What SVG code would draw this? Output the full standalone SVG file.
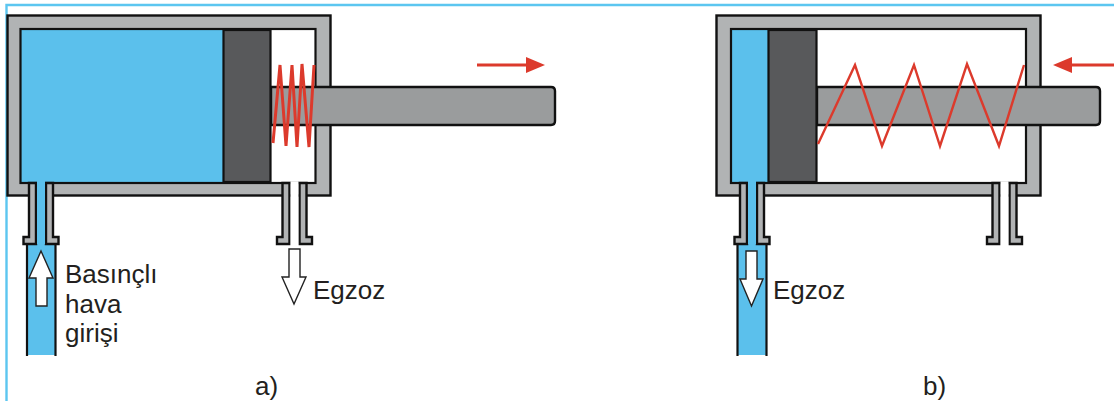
<svg xmlns="http://www.w3.org/2000/svg" width="1114" height="401" viewBox="0 0 1114 401">
<style>
.wall{fill:#b1b3b4;stroke:#111;stroke-width:2.4}
.blue{fill:#5bc0ec}
.white{fill:#fff}
.inner{stroke:#111;stroke-width:2.2;fill:none}
.piston{fill:#58595b;stroke:#111;stroke-width:2.2}
.rod{fill:#9a9c9d;stroke:#111;stroke-width:2.4}
.spring{fill:none;stroke:#dc3a2c;stroke-width:2.4;stroke-linejoin:miter}
.spring-tight{stroke-width:3}
.mv{stroke:#dc3a2c;stroke-width:2.8;fill:none}
.mh{fill:#dc3a2c}
.flow{fill:#fff;stroke:#222;stroke-width:1.4;stroke-linejoin:miter}
.pipe{stroke:#111;stroke-width:2.2;fill:none}
text{font-family:"Liberation Sans",Arial,sans-serif;font-size:26px;fill:#231f20}
</style>
<defs>
<path id="port" class="wall" d="M-12,183V237H-17.5V244H-5V183ZM12,183V237H17.5V244H5V183Z"/>
</defs>
<rect width="1114" height="401" fill="#fff"/>
<path d="M6.5,401V5H1114" fill="none" stroke="#5cc6f0" stroke-width="2.4"/>

<g id="cylinder-a">
<rect class="wall" x="7.5" y="15.500" width="323" height="180"/>
<rect class="white" x="21" y="29" width="295" height="154"/>
<rect class="blue" x="21" y="29" width="202" height="154"/>
<rect class="inner" x="20.500" y="29" width="295" height="154"/>
<path class="rod" d="M271,87H551Q555,87 555,91V121Q555,125 551,125H271Z"/>
<rect class="piston" x="223.500" y="30" width="47" height="152"/>
<path class="spring spring-tight" d="M273,143L280,65L286,146L292,65L297,147L302,64L309,147L314,65"/>
</g>
<g id="port-a-left">
<path class="blue" d="M27,244H55V355H27Z"/>
<path class="pipe" d="M27,244V356M55.500,244V356"/>
<use href="#port" x="41"/>
<rect class="blue" x="37" y="180" width="8" height="64"/>
</g>
<g id="port-a-right">
<use href="#port" x="294.500"/>
<rect class="white" x="290.500" y="182" width="8" height="64"/>
</g>
<g id="cylinder-b">
<rect class="wall" x="716.500" y="15.500" width="324" height="180"/>
<rect class="white" x="731" y="29" width="295" height="154"/>
<rect class="blue" x="731" y="29" width="37" height="154"/>
<rect class="inner" x="731" y="29" width="295" height="154"/>
<path class="rod" d="M817,87H1096Q1100,87 1100,91V121Q1100,125 1096,125H817Z"/>
<rect class="piston" x="768.500" y="30" width="48" height="152"/>
<path class="spring" d="M818,144L855,65L882,146L914,65L940,146L967,64L999,146L1024,65"/>
</g>
<g id="port-b-left">
<path class="blue" d="M738,244H766V355H738Z"/>
<path class="pipe" d="M737.500,244V356M766.500,244V356"/>
<use href="#port" x="752"/>
<rect class="blue" x="748" y="180" width="8" height="64"/>
</g>
<g id="port-b-right">
<use href="#port" x="1004.500"/>
<rect class="white" x="1000.500" y="182" width="8" height="64"/>
</g>
<g id="connectors">
<path class="flow" d="M41,251L53,278H47V306H36V278H29Z"/>
<path class="flow" d="M289,249H300V277H306L294,304L282,277H289Z"/>
<path class="flow" d="M746,251H757V279H763L751.500,306L740,279H746Z"/>
<path class="mv" d="M477,65H528"/>
<path class="mh" d="M545,65L526,57V73Z"/>
<path class="mv" d="M1070,65H1114"/>
<path class="mh" d="M1053,65L1072,57V73Z"/>
</g>
<g id="labels">
<text x="65" y="283">Basınçlı</text>
<text x="65" y="313">hava</text>
<text x="65" y="342">girişi</text>
<text x="313" y="299">Egzoz</text>
<text x="773" y="299">Egzoz</text>
<text x="255" y="395">a)</text>
<text x="923" y="395">b)</text>
</g>
</svg>
